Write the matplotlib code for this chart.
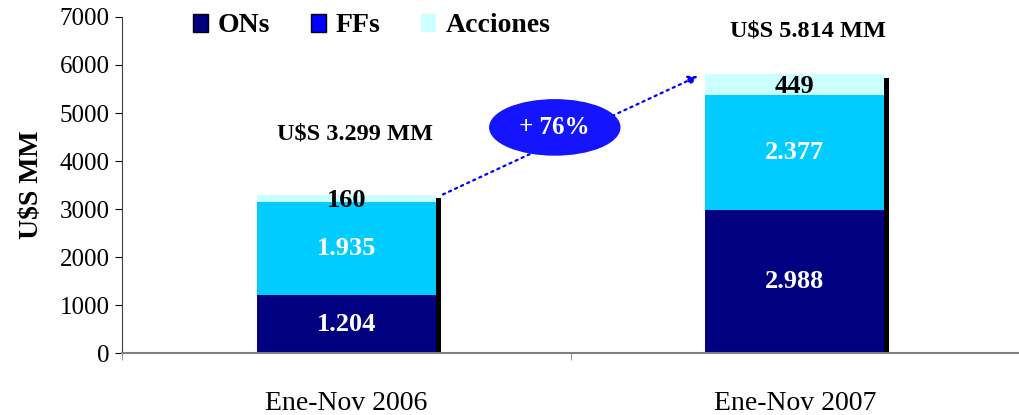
import matplotlib
matplotlib.use("Agg")
import matplotlib.pyplot as plt
from matplotlib.patches import Ellipse, Patch

categories = ["Ene-Nov 2006", "Ene-Nov 2007"]
ons = [1204, 2988]
ffs = [1935, 2377]
acciones = [160, 449]
ons_labels = ["1.204", "2.988"]
ffs_labels = ["1.935", "2.377"]
acc_labels = ["160", "449"]
totals_labels = ["U$S 3.299 MM", "U$S 5.814 MM"]
growth_label = "+ 76%"

plt.rcParams['font.family'] = ['Liberation Serif', 'DejaVu Serif']

fig = plt.figure(figsize=(10.19, 4.15), dpi=100)
ax = fig.add_axes([122/1019, 1-353/415, 897/1019, 336/415])

x = list(range(len(categories)))
w = 0.40
c_on, c_ff, c_acc = "#000080", "#00CCFF", "#CCFFFF"

totals = [a + b + c for a, b, c in zip(ons, ffs, acciones)]
# shadow
sh_dx = 5/448
for xi, t in zip(x, totals):
    ax.bar(xi + w/2 + sh_dx/2, t - 80, width=sh_dx, color="black", zorder=1)

ax.bar(x, ons, w, color=c_on, zorder=2)
ax.bar(x, ffs, w, bottom=ons, color=c_ff, zorder=2)
bot2 = [a + b for a, b in zip(ons, ffs)]
ax.bar(x, acciones, w, bottom=bot2, color=c_acc, zorder=2)

for xi, v, lab in zip(x, ons, ons_labels):
    ax.text(xi, v/2, lab, ha="center", va="center", color="white", fontsize=19, fontweight="bold", zorder=3)
for xi, b, v, lab in zip(x, ons, ffs, ffs_labels):
    ax.text(xi, b + v/2, lab, ha="center", va="center", color="white", fontsize=19, fontweight="bold", zorder=3)
for xi, b, v, lab in zip(x, bot2, acciones, acc_labels):
    ax.text(xi, b + v/2 - 40, lab, ha="center", va="center", color="black", fontsize=19, fontweight="bold", zorder=3)

ax.text(x[0] + 0.02, 4570, totals_labels[0], ha="center", va="center", fontsize=17.5, fontweight="bold")
ax.text(x[1] + 0.03, 6700, totals_labels[1], ha="center", va="center", fontsize=17.5, fontweight="bold")

# arrow
ax.annotate("", xy=(x[1] - w/2 - 0.01, totals[1] - 20), xytext=(x[0] + w/2 + 0.01, totals[0] - 20),
            arrowprops=dict(arrowstyle="-|>", color="#0000FF", linestyle=(0, (1, 2)), lw=1.6,
                            mutation_scale=14), zorder=4)
ell = Ellipse((0.465, 4700), width=0.29, height=1150, color="#1414FF", zorder=5)
ax.add_patch(ell)
ax.text(0.465, 4700, growth_label, ha="center", va="center", color="white", fontsize=18, fontweight="bold", zorder=6)

ax.set_xlim(-0.5, 1.5)
ax.set_ylim(0, 7000)
ax.set_yticks(range(0, 7001, 1000))
ax.tick_params(axis="y", labelsize=18, direction="out", length=5, width=0.8, pad=4)
ax.set_xticks(x)
ax.set_xticklabels(categories, fontsize=20)
ax.tick_params(axis="x", length=0, pad=27)
ax.set_xticks([-0.5, 0.5, 1.5], minor=True)
ax.tick_params(axis="x", which="minor", length=5, direction="out", color="#808080")
ax.spines["top"].set_visible(False)
ax.spines["right"].set_visible(False)
ax.spines["bottom"].set_color("#808080")
ax.spines["bottom"].set_linewidth(1.5)
ax.spines["left"].set_color("#404040")
ax.set_ylabel("U$S MM", fontsize=20, fontweight="bold", labelpad=11)

handles = [Patch(facecolor="#000080", edgecolor="black", label="ONs"),
           Patch(facecolor="#0000FF", edgecolor="black", label="FFs"),
           Patch(facecolor="#CCFFFF", edgecolor="none", label="Acciones")]
leg = ax.legend(handles=handles, loc="center left", bbox_to_anchor=(71/897, 1.0 - 9/336), ncol=3, frameon=False,
          prop={"size": 20, "weight": "bold"}, handlelength=0.55, handleheight=0.6, columnspacing=1.45,
          handletextpad=0.35, borderpad=0, borderaxespad=0)

fig.savefig("out.png", dpi=100)
